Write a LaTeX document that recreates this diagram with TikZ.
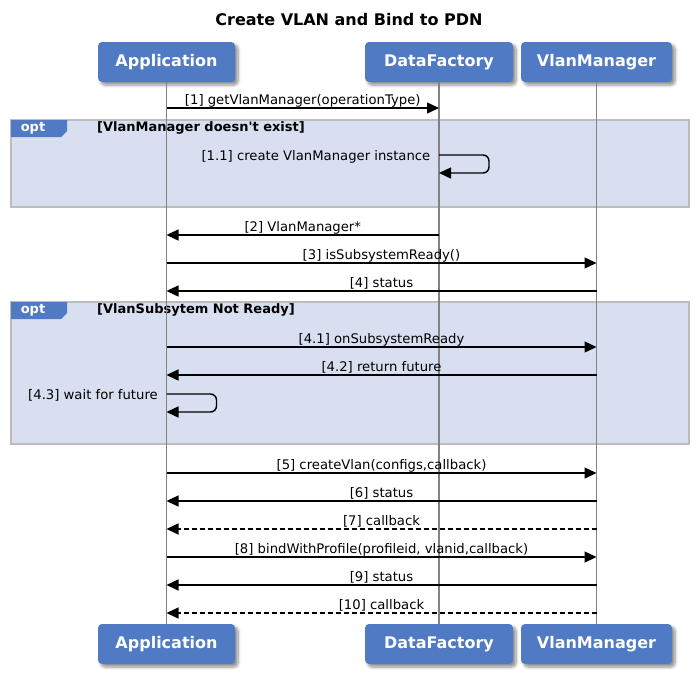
\documentclass[tikz,border=0pt]{standalone}
\usepackage{fontspec}
\setmainfont{DejaVu Sans}[Ligatures=TeXOff]
\usetikzlibrary{arrows.meta,shadows.blur}

\definecolor{partblue}{RGB}{80,122,196}
\definecolor{optblue}{RGB}{216,223,240}
\definecolor{optgray}{RGB}{188,188,188}
\definecolor{lifegray}{RGB}{130,130,130}

\begin{document}
\begin{tikzpicture}[x=1pt, y=-1pt, >={Triangle[length=12pt,width=11pt]},
        every node/.append style={inner sep=0pt}]
      \tikzstyle{part} = [rectangle, rounded corners=4pt, fill=partblue, text=white, minimum height=40pt,
        font=\fontsize{16}{19}\selectfont\bfseries,
        blur shadow={shadow xshift=3pt, shadow yshift=-3pt, shadow blur steps=6, shadow blur radius=3pt, shadow opacity=45}]
      \tikzstyle{life} = [draw=lifegray, line width=1.5pt]
      \tikzstyle{msg} = [->, line width=1.4pt]
      \tikzstyle{ret} = [msg, dash pattern=on 5pt off 3pt]
      \tikzstyle{lbl} = [font=\fontsize{13.2}{15}\selectfont, anchor=base, yshift=4pt]
      \tikzstyle{slbl} = [font=\fontsize{13.2}{15}\selectfont, anchor=base east, xshift=-8pt, yshift=-5pt]
      \tikzstyle{frame} = [fill=optblue, draw=optgray, line width=1.5pt]
      \tikzstyle{cond} = [font=\fontsize{13}{15}\selectfont\bfseries, anchor=west]
      \tikzstyle{tag} = [font=\fontsize{13}{15}\selectfont\bfseries, text=white]
      \useasboundingbox (0,0) rectangle (698,672);
      \node (title) at (349,20) [font=\fontsize{16}{19}\selectfont\bfseries] {Create VLAN and Bind to PDN};
      % opt frames
      \draw[frame] (11,120) rectangle (689,207);
      \fill[partblue] (11,120) -- (67,120) -- (67,131) -- (61,137) -- (11,137) -- cycle;
      \node (opt1) [tag] at (33,128) {opt};
      \node (cond1) [cond] at (97,128) {[VlanManager doesn't exist]};
      \draw[frame] (11,302) rectangle (689,444);
      \fill[partblue] (11,302) -- (67,302) -- (67,313) -- (61,319) -- (11,319) -- cycle;
      \node (opt2) [tag] at (33,310) {opt};
      \node (cond2) [cond] at (97,310) {[VlanSubsytem Not Ready]};
      % participants
      \node (app) [part, minimum width=137pt] at (166.5,62) {Application};
      \node (df) [part, minimum width=148pt] at (439,62) {DataFactory};
      \node (vm) [part, minimum width=151pt] at (596.5,62) {VlanManager};
      \node (appB) [part, minimum width=137pt] at (166.5,644) {Application};
      \node (dfB) [part, minimum width=148pt] at (439,644) {DataFactory};
      \node (vmB) [part, minimum width=151pt] at (596.5,644) {VlanManager};
      \draw[life] (app) -- (appB);
      \draw[life] (df) -- (dfB);
      \draw[life] (vm) -- (vmB);
      % messages
      \coordinate (y1) at (0,108);
      \coordinate (s1a) at (0,155);
      \coordinate (s1b) at (0,173);
      \coordinate (y2) at (0,235);
      \coordinate (y3) at (0,263);
      \coordinate (y4) at (0,291);
      \coordinate (y41) at (0,347);
      \coordinate (y42) at (0,375);
      \coordinate (s43a) at (0,394);
      \coordinate (s43b) at (0,412);
      \coordinate (y5) at (0,473);
      \coordinate (y6) at (0,501);
      \coordinate (y7) at (0,529);
      \coordinate (y8) at (0,557);
      \coordinate (y9) at (0,585);
      \coordinate (y10) at (0,613);
      \draw[msg] (app|-y1) -- node[lbl] {[1] getVlanManager(operationType)} (df|-y1);
      \draw[msg, rounded corners=6pt] (df|-s1a) node[slbl] {[1.1] create VlanManager instance} -- ++(50,0) |- (df|-s1b);
      \draw[msg] (df|-y2) -- node[lbl] {[2] VlanManager*} (app|-y2);
      \draw[msg] (app|-y3) -- node[lbl] {[3] isSubsystemReady()} (vm|-y3);
      \draw[msg] (vm|-y4) -- node[lbl] {[4] status} (app|-y4);
      \draw[msg] (app|-y41) -- node[lbl] {[4.1] onSubsystemReady} (vm|-y41);
      \draw[msg] (vm|-y42) -- node[lbl] {[4.2] return future} (app|-y42);
      \draw[msg, rounded corners=6pt] (app|-s43a) node[slbl] {[4.3] wait for future} -- ++(50,0) |- (app|-s43b);
      \draw[msg] (app|-y5) -- node[lbl] {[5] createVlan(configs,callback)} (vm|-y5);
      \draw[msg] (vm|-y6) -- node[lbl] {[6] status} (app|-y6);
      \draw[ret] (vm|-y7) -- node[lbl] {[7] callback} (app|-y7);
      \draw[msg] (app|-y8) -- node[lbl] {[8] bindWithProfile(profileid, vlanid,callback)} (vm|-y8);
      \draw[msg] (vm|-y9) -- node[lbl] {[9] status} (app|-y9);
      \draw[ret] (vm|-y10) -- node[lbl] {[10] callback} (app|-y10);
    \end{tikzpicture}
\end{document}
